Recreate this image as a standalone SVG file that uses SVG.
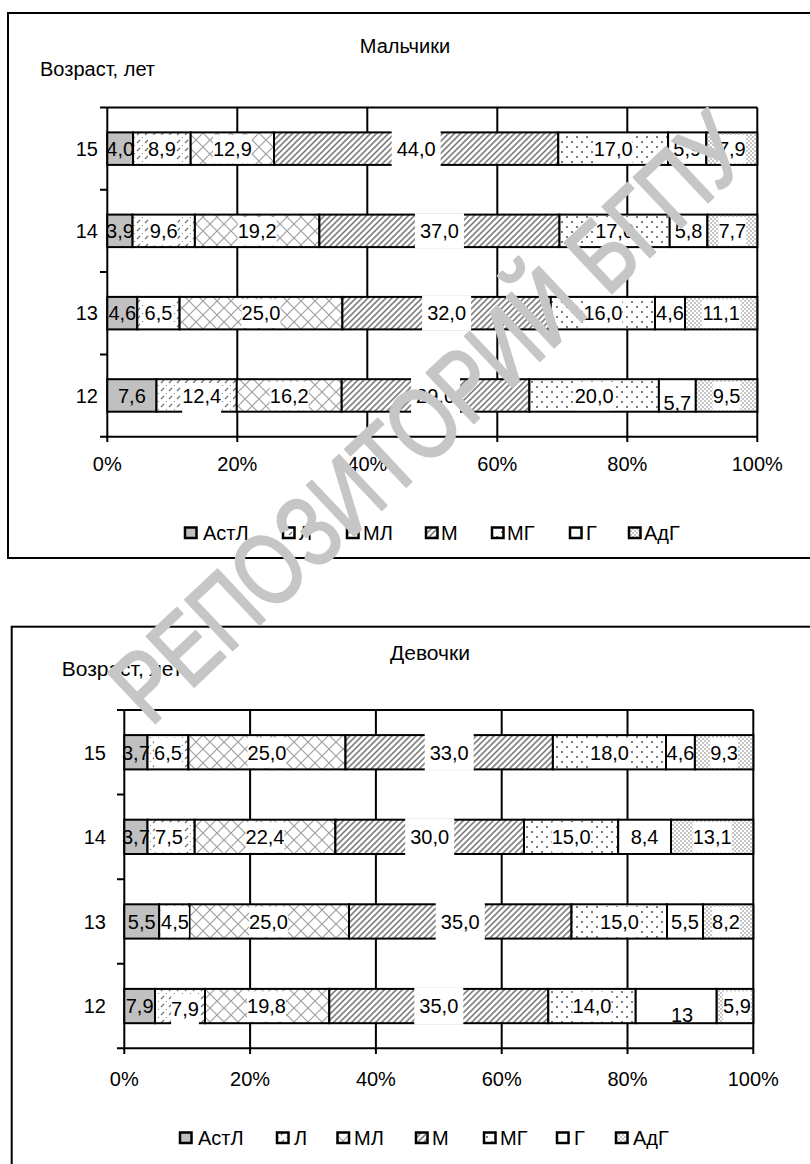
<svg xmlns="http://www.w3.org/2000/svg" width="810" height="1164" viewBox="0 0 810 1164">
<defs>
<style>
text{font-family:"Liberation Sans",Arial,sans-serif;fill:#000}
.b{font-size:20px}
.g{font-size:20px}
.c{text-anchor:middle}
.e{text-anchor:end}
.frame{fill:#fff;stroke:#000;stroke-width:2}
.grid{stroke:#000;stroke-width:2;fill:none}
.seg{stroke:#000;stroke-width:2}
.astl{fill:#c0c0c0}
.l{fill:url(#pL)}
.ml{fill:url(#pML)}
.m{fill:url(#pM)}
.mg{fill:url(#pMG)}
.gg{fill:#fff}
.adg{fill:url(#pAdG)}
.lb{fill:#fff}
.key{stroke:#000;stroke-width:2.5}
.wm{font-family:"Liberation Sans",Arial,sans-serif;font-size:100px;fill:#c6c6c6;stroke:#c6c6c6;stroke-width:2.5;stroke-linejoin:round}
</style>
<pattern id="pL" patternUnits="userSpaceOnUse" width="8" height="8">
<rect width="8" height="8" fill="#fff"/>
<path d="M1 7 L4 4" stroke="#707070" stroke-width="1.2"/>
<circle cx="6.5" cy="1.5" r="0.6" fill="#707070"/>
</pattern>
<pattern id="pML" patternUnits="userSpaceOnUse" width="14" height="14">
<rect width="14" height="14" fill="#fff"/>
<path d="M0 0 L14 14 M14 0 L0 14" stroke="#a0a0a0" stroke-width="1.2"/>
</pattern>
<pattern id="pM" patternUnits="userSpaceOnUse" width="6" height="6">
<rect width="6" height="6" fill="#fff"/>
<path d="M0 6 L6 0 M-1 1 L1 -1 M5 7 L7 5" stroke="#808080" stroke-width="1.6"/>
</pattern>
<pattern id="pMG" patternUnits="userSpaceOnUse" width="10" height="10">
<rect width="10" height="10" fill="#fff"/>
<circle cx="2" cy="2" r="1" fill="#505050"/>
<circle cx="7" cy="7" r="1" fill="#505050"/>
</pattern>
<pattern id="pAdG" patternUnits="userSpaceOnUse" width="4" height="4">
<rect width="4" height="4" fill="#fff"/>
<circle cx="1" cy="1" r="0.75" fill="#707070"/>
<circle cx="3" cy="3" r="0.75" fill="#707070"/>
</pattern>
</defs>
<rect width="810" height="1164" fill="#fff"/>

<!-- ================= BOYS ================= -->
<g id="chart-boys">
<rect class="frame" x="8" y="13" width="808" height="545"/>
<text class="b c" x="405" y="53">Мальчики</text>
<text class="b" x="40" y="76">Возраст, лет</text>

<g id="boys-axes">
<path class="grid" d="M107.3 107.5 H757.3 M237.3 107.5 V436.7 M367.3 107.5 V436.7 M497.3 107.5 V436.7 M627.3 107.5 V436.7 M757.3 107.5 V436.7"/>
<path class="grid" d="M107.3 107.5 V436.7 H757.3"/>
<path class="grid" d="M100 107.5 H107.3 M100 189.8 H107.3 M100 272.1 H107.3 M100 354.4 H107.3 M100 436.7 H107.3"/>
<path class="grid" d="M107.3 436.7 V442 M237.3 436.7 V442 M367.3 436.7 V442 M497.3 436.7 V442 M627.3 436.7 V442 M757.3 436.7 V442"/>
<text class="b e" x="98" y="155.8">15</text>
<text class="b e" x="98" y="238.1">14</text>
<text class="b e" x="98" y="320.4">13</text>
<text class="b e" x="98" y="402.7">12</text>
<text class="b c" x="107.3" y="471">0%</text>
<text class="b c" x="237.3" y="471">20%</text>
<text class="b c" x="367.3" y="471">40%</text>
<text class="b c" x="497.3" y="471">60%</text>
<text class="b c" x="627.3" y="471">80%</text>
<text class="b c" x="757.3" y="471">100%</text>
</g>

<g id="boys-15">
<rect class="seg astl" x="107.3" y="132.4" width="25.8" height="32.5"/>
<rect class="seg l" x="133.1" y="132.4" width="57.6" height="32.5"/>
<rect class="seg ml" x="190.7" y="132.4" width="83.3" height="32.5"/>
<rect class="seg m" x="274.0" y="132.4" width="284.3" height="32.5"/>
<rect class="seg mg" x="558.3" y="132.4" width="109.8" height="32.5"/>
<rect class="seg gg" x="668.1" y="132.4" width="38.2" height="32.5"/>
<rect class="seg adg" x="706.3" y="132.4" width="51.0" height="32.5"/>
<rect class="lb" x="148.0" y="134.9" width="27.8" height="28.5"/>
<rect class="lb" x="212.9" y="134.9" width="38.9" height="28.5"/>
<rect class="lb" x="391.65" y="131" width="49" height="35.3"/>
<rect class="lb" x="593.75" y="134.9" width="38.9" height="28.5"/>
<rect class="lb" x="717.9" y="134.9" width="27.8" height="28.5"/>
<text class="b c" x="120.2" y="155.8">4,0</text>
<text class="b c" x="161.9" y="155.8">8,9</text>
<text class="b c" x="232.35" y="155.8">12,9</text>
<text class="b c" x="416.15" y="155.8">44,0</text>
<text class="b c" x="613.2" y="155.8">17,0</text>
<text class="b c" x="687.2" y="155.8">5,9</text>
<text class="b c" x="731.8" y="155.8">7,9</text>
</g>

<g id="boys-14">
<rect class="seg astl" x="107.3" y="214.6" width="25.3" height="32.5"/>
<rect class="seg l" x="132.6" y="214.6" width="62.3" height="32.5"/>
<rect class="seg ml" x="194.9" y="214.6" width="124.5" height="32.5"/>
<rect class="seg m" x="319.4" y="214.6" width="240.1" height="32.5"/>
<rect class="seg mg" x="559.5" y="214.6" width="110.2" height="32.5"/>
<rect class="seg gg" x="669.7" y="214.6" width="37.7" height="32.5"/>
<rect class="seg adg" x="707.4" y="214.6" width="49.9" height="32.5"/>
<rect class="lb" x="149.85" y="217.1" width="27.8" height="28.5"/>
<rect class="lb" x="237.7" y="217.1" width="38.9" height="28.5"/>
<rect class="lb" x="414.95" y="213.2" width="49" height="35.3"/>
<rect class="lb" x="595.15" y="217.1" width="38.9" height="28.5"/>
<rect class="lb" x="718.45" y="217.1" width="27.8" height="28.5"/>
<text class="b c" x="120" y="238.1">3,9</text>
<text class="b c" x="163.75" y="238.1">9,6</text>
<text class="b c" x="257.15" y="238.1">19,2</text>
<text class="b c" x="439.45" y="238.1">37,0</text>
<text class="b c" x="614.6" y="238.1">17,0</text>
<text class="b c" x="688.55" y="238.1">5,8</text>
<text class="b c" x="732.35" y="238.1">7,7</text>
</g>

<g id="boys-13">
<rect class="seg astl" x="107.3" y="296.9" width="30.0" height="32.5"/>
<rect class="seg l" x="137.3" y="296.9" width="42.3" height="32.5"/>
<rect class="seg ml" x="179.6" y="296.9" width="162.8" height="32.5"/>
<rect class="seg m" x="342.4" y="296.9" width="208.4" height="32.5"/>
<rect class="seg mg" x="550.8" y="296.9" width="104.2" height="32.5"/>
<rect class="seg gg" x="655.0" y="296.9" width="30.0" height="32.5"/>
<rect class="seg adg" x="685.0" y="296.9" width="72.3" height="32.5"/>
<rect class="lb" x="144.55" y="299.4" width="27.8" height="28.5"/>
<rect class="lb" x="241.55" y="299.4" width="38.9" height="28.5"/>
<rect class="lb" x="422.1" y="295.5" width="49" height="35.3"/>
<rect class="lb" x="583.45" y="299.4" width="38.9" height="28.5"/>
<rect class="lb" x="701.7" y="299.4" width="38.9" height="28.5"/>
<text class="b c" x="122.3" y="320.4">4,6</text>
<text class="b c" x="158.45" y="320.4">6,5</text>
<text class="b c" x="261" y="320.4">25,0</text>
<text class="b c" x="446.6" y="320.4">32,0</text>
<text class="b c" x="602.9" y="320.4">16,0</text>
<text class="b c" x="670" y="320.4">4,6</text>
<text class="b c" x="721.15" y="320.4">11,1</text>
</g>

<g id="boys-12">
<rect class="seg astl" x="107.3" y="379.2" width="49.2" height="32.5"/>
<rect class="seg l" x="156.5" y="379.2" width="80.3" height="32.5"/>
<rect class="seg ml" x="236.8" y="379.2" width="104.9" height="32.5"/>
<rect class="seg m" x="341.7" y="379.2" width="187.7" height="32.5"/>
<rect class="seg mg" x="529.4" y="379.2" width="129.5" height="32.5"/>
<rect class="seg gg" x="658.9" y="379.2" width="36.9" height="32.5"/>
<rect class="seg adg" x="695.8" y="379.2" width="61.5" height="32.5"/>
<rect class="lb" x="182.2" y="383" width="38.9" height="31"/>
<rect class="lb" x="269.8" y="381.7" width="38.9" height="28.5"/>
<rect class="lb" x="411.05" y="377.8" width="49" height="35.3"/>
<rect class="lb" x="574.7" y="381.7" width="38.9" height="28.5"/>
<rect class="lb" x="712.65" y="381.7" width="27.8" height="28.5"/>
<text class="b c" x="131.9" y="402.7">7,6</text>
<text class="b c" x="201.65" y="403.2">12,4</text>
<text class="b c" x="289.25" y="402.7">16,2</text>
<text class="b c" x="435.55" y="402.7">29,0</text>
<text class="b c" x="594.15" y="402.7">20,0</text>
<text class="b c" x="677.35" y="409.5">5,7</text>
<text class="b c" x="726.55" y="402.7">9,5</text>
</g>

<g id="boys-legend">
<rect class="key astl" x="185" y="527.5" width="11.5" height="10.5"/>
<text class="b" x="203" y="540">АстЛ</text>
<rect class="key l" x="283" y="527.5" width="11.5" height="10.5"/>
<text class="b" x="299" y="540">Л</text>
<rect class="key ml" x="347" y="527.5" width="11.5" height="10.5"/>
<text class="b" x="363" y="540">МЛ</text>
<rect class="key m" x="426" y="527.5" width="11.5" height="10.5"/>
<text class="b" x="441" y="540">М</text>
<rect class="key mg" x="492" y="527.5" width="11.5" height="10.5"/>
<text class="b" x="507" y="540">МГ</text>
<rect class="key gg" x="570" y="527.5" width="11.5" height="10.5"/>
<text class="b" x="586" y="540">Г</text>
<rect class="key adg" x="629" y="527.5" width="11.5" height="10.5"/>
<text class="b" x="644" y="540">АдГ</text>
</g>
</g>

<!-- ================= GIRLS ================= -->
<g id="chart-girls">
<rect class="frame" x="11.7" y="626.7" width="805" height="545"/>
<text class="g c" x="430" y="660" style="font-size:21px">Девочки</text>
<text class="g" x="61.7" y="676" style="font-size:21px">Возраст, лет</text>

<g id="girls-axes">
<path class="grid" d="M124.3 710 H753.3 M250.1 710 V1048.3 M375.9 710 V1048.3 M501.7 710 V1048.3 M627.5 710 V1048.3 M753.3 710 V1048.3"/>
<path class="grid" d="M124.3 710 V1048.3 H753.3"/>
<path class="grid" d="M117 710 H124.3 M117 794.6 H124.3 M117 879.2 H124.3 M117 963.7 H124.3 M117 1048.3 H124.3"/>
<path class="grid" d="M124.3 1048.3 V1054 M250.1 1048.3 V1054 M375.9 1048.3 V1054 M501.7 1048.3 V1054 M627.5 1048.3 V1054 M753.3 1048.3 V1054"/>
<text class="g e" x="106" y="759.5">15</text>
<text class="g e" x="106" y="844.1">14</text>
<text class="g e" x="106" y="928.7">13</text>
<text class="g e" x="106" y="1013.2">12</text>
<text class="g c" x="124.3" y="1086">0%</text>
<text class="g c" x="250.1" y="1086">20%</text>
<text class="g c" x="375.9" y="1086">40%</text>
<text class="g c" x="501.7" y="1086">60%</text>
<text class="g c" x="627.5" y="1086">80%</text>
<text class="g c" x="753.3" y="1086">100%</text>
</g>

<g id="girls-15">
<rect class="seg astl" x="124.3" y="735.1" width="23.2" height="34.3"/>
<rect class="seg l" x="147.5" y="735.1" width="40.9" height="34.3"/>
<rect class="seg ml" x="188.4" y="735.1" width="157.1" height="34.3"/>
<rect class="seg m" x="345.5" y="735.1" width="207.4" height="34.3"/>
<rect class="seg mg" x="552.9" y="735.1" width="113.1" height="34.3"/>
<rect class="seg gg" x="666.0" y="735.1" width="28.9" height="34.3"/>
<rect class="seg adg" x="694.9" y="735.1" width="58.4" height="34.3"/>
<rect class="lb" x="154.1" y="737.6" width="27.8" height="30.3"/>
<rect class="lb" x="247.55" y="737.6" width="38.9" height="30.3"/>
<rect class="lb" x="424.7" y="733.6" width="49" height="37.3"/>
<rect class="lb" x="590.05" y="737.6" width="38.9" height="30.3"/>
<rect class="lb" x="710.2" y="737.6" width="27.8" height="30.3"/>
<text class="g c" x="135.9" y="759.5">3,7</text>
<text class="g c" x="168" y="759.5">6,5</text>
<text class="g c" x="267" y="759.5">25,0</text>
<text class="g c" x="449.2" y="759.5">33,0</text>
<text class="g c" x="609.5" y="759.5">18,0</text>
<text class="g c" x="680.5" y="759.5">4,6</text>
<text class="g c" x="724.1" y="759.5">9,3</text>
</g>

<g id="girls-14">
<rect class="seg astl" x="124.3" y="819.7" width="23.2" height="34.3"/>
<rect class="seg l" x="147.5" y="819.7" width="47.2" height="34.3"/>
<rect class="seg ml" x="194.7" y="819.7" width="140.7" height="34.3"/>
<rect class="seg m" x="335.4" y="819.7" width="188.6" height="34.3"/>
<rect class="seg mg" x="524.0" y="819.7" width="94.2" height="34.3"/>
<rect class="seg gg" x="618.2" y="819.7" width="52.8" height="34.3"/>
<rect class="seg adg" x="671.0" y="819.7" width="82.3" height="34.3"/>
<rect class="lb" x="155.1" y="822.2" width="27.8" height="30.3"/>
<rect class="lb" x="245.55" y="822.2" width="38.9" height="30.3"/>
<rect class="lb" x="405.2" y="818.2" width="49" height="37.3"/>
<rect class="lb" x="551.65" y="822.2" width="38.9" height="30.3"/>
<rect class="lb" x="692.75" y="822.2" width="38.9" height="30.3"/>
<text class="g c" x="135.9" y="844.1">3,7</text>
<text class="g c" x="169" y="844.1">7,5</text>
<text class="g c" x="265" y="844.1">22,4</text>
<text class="g c" x="429.7" y="844.1">30,0</text>
<text class="g c" x="571.1" y="844.1">15,0</text>
<text class="g c" x="644.6" y="844.1">8,4</text>
<text class="g c" x="712.2" y="844.1">13,1</text>
</g>

<g id="girls-13">
<rect class="seg astl" x="124.3" y="904.3" width="34.9" height="34.3"/>
<rect class="seg l" x="159.2" y="904.3" width="30.3" height="34.3"/>
<rect class="seg ml" x="189.5" y="904.3" width="159.5" height="34.3"/>
<rect class="seg m" x="349.0" y="904.3" width="222.5" height="34.3"/>
<rect class="seg mg" x="571.5" y="904.3" width="95.5" height="34.3"/>
<rect class="seg gg" x="667.0" y="904.3" width="36.0" height="34.3"/>
<rect class="seg adg" x="703.0" y="904.3" width="50.3" height="34.3"/>
<rect class="lb" x="161.1" y="906.8" width="27.8" height="30.3"/>
<rect class="lb" x="249.05" y="906.8" width="38.9" height="30.3"/>
<rect class="lb" x="435.75" y="902.8" width="49" height="37.3"/>
<rect class="lb" x="600.05" y="906.8" width="38.9" height="30.3"/>
<rect class="lb" x="712.1" y="906.8" width="27.8" height="30.3"/>
<text class="g c" x="141.75" y="928.7">5,5</text>
<text class="g c" x="175" y="928.7">4,5</text>
<text class="g c" x="268.5" y="928.7">25,0</text>
<text class="g c" x="460.25" y="928.7">35,0</text>
<text class="g c" x="619.5" y="928.7">15,0</text>
<text class="g c" x="685" y="928.7">5,5</text>
<text class="g c" x="726" y="928.7">8,2</text>
</g>

<g id="girls-12">
<rect class="seg astl" x="124.3" y="988.9" width="30.7" height="34.3"/>
<rect class="seg l" x="155.0" y="988.9" width="50.0" height="34.3"/>
<rect class="seg ml" x="205.0" y="988.9" width="124.3" height="34.3"/>
<rect class="seg m" x="329.3" y="988.9" width="219.0" height="34.3"/>
<rect class="seg mg" x="548.3" y="988.9" width="87.4" height="34.3"/>
<rect class="seg gg" x="635.7" y="988.9" width="81.0" height="34.3"/>
<rect class="seg adg" x="716.7" y="988.9" width="36.6" height="34.3"/>
<rect class="lb" x="171.1" y="994" width="27.8" height="31"/>
<rect class="lb" x="247.05" y="991.4" width="38.9" height="30.3"/>
<rect class="lb" x="414.3" y="987.4" width="49" height="37.3"/>
<rect class="lb" x="572.55" y="991.4" width="38.9" height="30.3"/>
<rect class="lb" x="723.1" y="991.4" width="27.8" height="30.3"/>
<text class="g c" x="139.65" y="1013.2">7,9</text>
<text class="g c" x="185" y="1016">7,9</text>
<text class="g c" x="266.5" y="1013.2">19,8</text>
<text class="g c" x="438.8" y="1013.2">35,0</text>
<text class="g c" x="592" y="1013.2">14,0</text>
<text class="g c" x="682" y="1021.5">13</text>
<text class="g c" x="737" y="1013.2">5,9</text>
</g>

<g id="girls-legend">
<rect class="key astl" x="180" y="1132.5" width="11.5" height="10.5"/>
<text class="g" x="198" y="1145">АстЛ</text>
<rect class="key l" x="277" y="1132.5" width="11.5" height="10.5"/>
<text class="g" x="294" y="1145">Л</text>
<rect class="key ml" x="337.5" y="1132.5" width="11.5" height="10.5"/>
<text class="g" x="354" y="1145">МЛ</text>
<rect class="key m" x="416" y="1132.5" width="11.5" height="10.5"/>
<text class="g" x="432" y="1145">М</text>
<rect class="key mg" x="484" y="1132.5" width="11.5" height="10.5"/>
<text class="g" x="500" y="1145">МГ</text>
<rect class="key gg" x="557" y="1132.5" width="11.5" height="10.5"/>
<text class="g" x="574" y="1145">Г</text>
<rect class="key adg" x="616" y="1132.5" width="11.5" height="10.5"/>
<text class="g" x="633" y="1145">АдГ</text>
</g>
</g>

<g id="watermark">
<text class="wm" transform="translate(150.6,727.4) rotate(-43.3)" textLength="830" lengthAdjust="spacingAndGlyphs">РЕПОЗИТОРИЙ БГПУ</text>
</g>
</svg>
